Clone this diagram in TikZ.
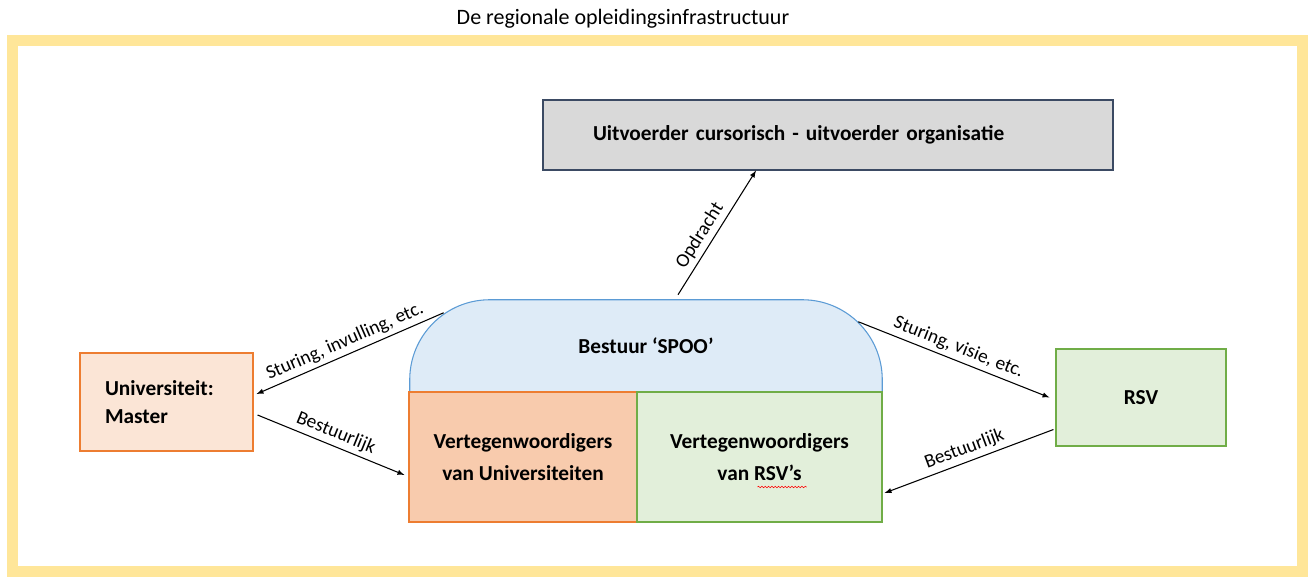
\documentclass[tikz,border=0pt]{standalone}
\usepackage{fontspec}
\setmainfont{Carlito}
\usetikzlibrary{calc,backgrounds,decorations.pathmorphing}

\definecolor{frameyellow}{HTML}{FFE699}
\definecolor{grayfill}{HTML}{D9D9D9}
\definecolor{grayline}{HTML}{3B4A63}
\definecolor{bluefill}{HTML}{DEEBF7}
\definecolor{blueline}{HTML}{5B9BD5}
\definecolor{orangefill}{HTML}{F8CBAD}
\definecolor{orangelight}{HTML}{FBE5D6}
\definecolor{orangeline}{HTML}{ED7D31}
\definecolor{greenfill}{HTML}{E2EFDA}
\definecolor{greenline}{HTML}{70AD47}

\tikzset{
  box/.style={draw, rectangle, line width=0.8pt, font=\fontsize{16}{24}\selectfont\bfseries, align=center},
  lbl/.style={font=\fontsize{14.5}{17}\selectfont, sloped, above, midway, inner sep=3pt}
}

\begin{document}
\begin{tikzpicture}[x=0.75pt, y=-0.75pt]
\useasboundingbox (0,0) rectangle (1311,576);
\draw[frameyellow, line width=8.25pt] (12.5,40) rectangle (1302.5,571);
\node[font=\fontsize{16.5}{19}\selectfont] (title) at (623,19) {De regionale opleidingsinfrastructuur};

\node[box, fill=grayfill, draw=grayline, minimum width=427.5pt, minimum height=52.5pt, inner xsep=37.5pt, text width=352.5pt, align=left] (uitv) at (828,135) {Uitvoerder cursorisch - uitvoerder organisatie};
\node[font=\fontsize{16}{24}\selectfont\bfseries, minimum width=354pt, minimum height=69pt] (spoo) at (646,346) {Bestuur ‘SPOO’};
\begin{scope}[on background layer]
  \filldraw[fill=bluefill, draw=blueline, line width=0.8pt] (spoo.south west) [rounded corners=60pt] -- (spoo.north west) -- (spoo.north east) [sharp corners] -- (spoo.south east) -- cycle;
\end{scope}
\node[box, fill=orangefill, draw=orangeline, minimum width=171pt, minimum height=97.5pt] (vu) at (523,457) {Vertegenwoordigers\\van Universiteiten};
\node[box, fill=greenfill, draw=greenline, minimum width=183.75pt, minimum height=97.5pt] (vr) at (759.5,457) {Vertegenwoordigers\\van RSV’s};
\draw[red, decorate, decoration={snake, amplitude=0.6pt, segment length=2.5pt}] ($(vr.center)+(-2,30)$) -- ++(49,0);
\node[box, fill=orangelight, draw=orangeline, minimum height=73.5pt, inner xsep=18.75pt, text width=92.25pt, align=left, font=\fontsize{16}{21}\selectfont\bfseries] (uni) at (166.5,402) {Universiteit:\\Master};
\node[box, fill=greenfill, draw=greenline, minimum width=127.5pt, minimum height=72.75pt] (rsv) at (1141,397.5) {RSV};

\draw[->, >=latex, line width=0.8pt] ($(spoo.north)+(32,-5)$) -- ($(uitv.south)+(-72,0)$) node[lbl, pos=0.42] {Opdracht};
\draw[->, >=latex, line width=0.8pt] ($(spoo.north west)+(34,13)$) -- ($(uni.east)+(3,-8)$) node[lbl] {Sturing, invulling, etc.};
\draw[->, >=latex, line width=0.8pt] ($(uni.east)+(4,13)$) -- ($(vu.west)+(-4,18)$) node[lbl] {Bestuurlijk};
\draw[->, >=latex, line width=0.8pt] ($(spoo.north east)+(-24,22)$) -- ($(rsv.west)+(-6,0)$) node[lbl] {Sturing, visie, etc.};
\draw[->, >=latex, line width=0.8pt] ($(rsv.west)+(-2,32)$) -- ($(vr.east)+(2,36)$) node[lbl] {Bestuurlijk};
\end{tikzpicture}
\end{document}
